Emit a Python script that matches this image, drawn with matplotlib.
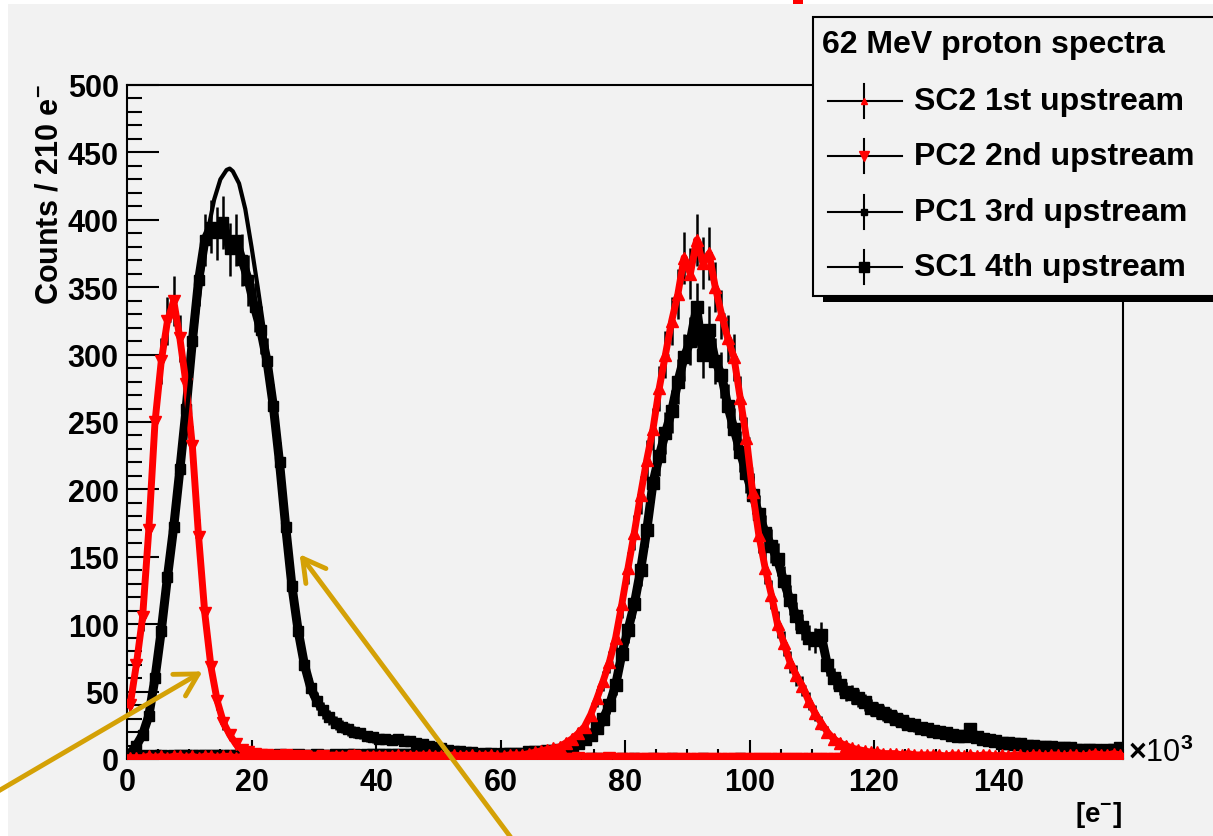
import numpy as np
import matplotlib
matplotlib.use("Agg")
import matplotlib.pyplot as plt
from matplotlib.lines import Line2D
from matplotlib.patches import Rectangle, FancyArrowPatch
from matplotlib.ticker import MultipleLocator

plt.rcParams['font.family'] = ['Liberation Sans', 'DejaVu Sans']
plt.rcParams['font.weight'] = 'bold'
plt.rcParams['mathtext.fontset'] = 'custom'
plt.rcParams['mathtext.rm'] = 'Liberation Sans'
plt.rcParams['mathtext.bf'] = 'Liberation Sans:bold'

# bins of 1k electrons (counts / 210 e-)
bin_centres = np.arange(160) + 0.5

pc2_counts = [
    40, 70, 105, 170, 250, 295, 325, 340, 312, 278,
    232, 165, 108, 68, 43, 27, 18, 11, 7, 5,
    4, 3, 3, 2, 2, 3, 2, 1, 2, 1,
    1, 2, 1, 1, 1, 1, 2, 1, 1, 1,
    1, 1, 0, 1, 1, 0, 1, 1, 0, 1,
    0, 1, 0, 0, 1, 0, 0, 1, 0, 0,
    0, 1, 0, 0, 0, 1, 0, 0, 0, 0,
    0, 0, 1, 0, 0, 0, 0, 1, 0, 0,
    0, 0, 0, 0, 0, 0, 0, 0, 0, 0,
    0, 0, 0, 0, 0, 0, 0, 0, 0, 0,
    0, 0, 0, 0, 0, 0, 0, 0, 0, 0,
    0, 0, 0, 0, 0, 0, 0, 0, 0, 0,
    0, 0, 0, 0, 0, 0, 0, 0, 0, 0,
    0, 0, 0, 0, 0, 0, 0, 0, 0, 0,
    0, 0, 0, 0, 0, 0, 0, 0, 0, 0,
    0, 0, 0, 0, 0, 0, 0, 0, 0, 0,
]

sc2_counts = [
    1, 1, 1, 2, 1, 2, 1, 2, 2, 1,
    2, 1, 2, 2, 1, 2, 2, 1, 2, 2,
    2, 1, 2, 2, 2, 1, 2, 2, 1, 2,
    2, 2, 1, 2, 2, 2, 3, 2, 2, 2,
    2, 2, 2, 3, 2, 2, 2, 2, 3, 2,
    2, 2, 3, 2, 2, 3, 2, 2, 3, 2,
    2, 3, 3, 3, 4, 5, 6, 7, 8, 9,
    12, 15, 19, 24, 33, 45, 58, 72, 90, 115,
    142, 168, 196, 222, 245, 275, 300, 325, 345, 372,
    360, 385, 368, 375, 350, 330, 312, 298, 268, 238,
    198, 166, 142, 122, 100, 86, 72, 62, 54, 43,
    34, 27, 20, 15, 12, 10, 8, 7, 6, 5,
    5, 4, 4, 4, 3, 4, 3, 3, 3, 3,
    3, 2, 3, 3, 2, 3, 2, 3, 3, 2,
    3, 2, 3, 3, 2, 3, 3, 2, 3, 3,
    2, 3, 3, 2, 3, 4, 3, 3, 4, 3,
]

pc1_counts = [
    4, 10, 18, 32, 60, 95, 135, 172, 215, 260,
    310, 355, 385, 395, 390, 398, 378, 385, 370, 355,
    335, 318, 295, 262, 220, 172, 128, 95, 70, 53,
    43, 36, 31, 27, 24, 22, 20, 19, 17, 16,
    15, 15, 14, 15, 13, 13, 12, 11, 10, 9,
    8, 7, 6, 6, 5, 5, 4, 4, 3, 3,
    3, 3, 2, 2, 2, 2, 2, 1, 1, 2,
    1, 1, 1, 0, 1, 1, 0, 1, 0, 1,
    0, 1, 0, 0, 1, 0, 0, 1, 0, 0,
    0, 0, 1, 0, 0, 0, 0, 0, 1, 0,
    0, 0, 0, 0, 0, 0, 0, 0, 0, 0,
    0, 0, 0, 0, 0, 0, 0, 0, 0, 0,
    0, 0, 0, 0, 0, 0, 0, 0, 0, 0,
    0, 0, 0, 0, 0, 0, 0, 0, 0, 0,
    0, 0, 0, 0, 0, 0, 0, 0, 0, 0,
    0, 0, 0, 0, 0, 0, 0, 0, 0, 0,
]

sc1_counts = [
    1, 1, 2, 1, 2, 2, 1, 2, 2, 2,
    2, 2, 2, 2, 2, 2, 2, 2, 2, 2,
    2, 2, 2, 2, 3, 2, 2, 3, 2, 2,
    3, 2, 2, 3, 2, 3, 3, 2, 3, 3,
    3, 3, 3, 3, 3, 3, 3, 3, 3, 3,
    3, 3, 4, 3, 3, 4, 3, 4, 4, 3,
    4, 4, 4, 4, 5, 5, 5, 6, 6, 7,
    8, 10, 12, 15, 18, 23, 30, 40, 55, 78,
    96, 115, 140, 170, 205, 225, 242, 258, 280, 298,
    310, 335, 300, 318, 295, 285, 262, 245, 228, 212,
    196, 182, 168, 158, 148, 132, 118, 106, 98, 90,
    88, 92, 70, 60, 55, 50, 48, 45, 42, 38,
    36, 34, 32, 30, 28, 26, 25, 23, 22, 21,
    20, 19, 18, 17, 17, 22, 16, 15, 14, 13,
    12, 12, 11, 11, 10, 10, 9, 9, 9, 8,
    8, 8, 7, 7, 7, 7, 6, 7, 7, 8,
]

# smooth fit drawn over the PC1 peak
pc1_fit_x = [9, 10, 11, 12, 13, 14, 15, 16, 16.5, 17, 18, 19, 20, 21, 22, 23, 24, 25]
pc1_fit_y = [230, 275, 320, 360, 392, 415, 430, 437, 438, 436, 427, 408, 380, 350, 318, 285, 248, 210]

legend_title = '62 MeV proton spectra'
legend_labels = ['SC2 1st upstream', 'PC2 2nd upstream', 'PC1 3rd upstream', 'SC1 4th upstream']
legend_markers = ['^', 'v', 's', 's']
legend_colors = ['red', 'red', 'black', 'black']
legend_sizes = [5, 6.5, 4.5, 7]

W, H = 1213, 837
BG = '#f2f2f2'
GOLD = '#d4a106'

fig = plt.figure(figsize=(W / 100, H / 100), dpi=100, facecolor=BG)
ax = fig.add_axes([127 / W, 1 - 760 / H, (1123 - 127) / W, (760 - 86) / H])
ax.set_facecolor(BG)


def fx(px):
    return px / W


def fy(py):
    return 1 - py / H


def draw_series(counts, marker, color, ms, lw):
    counts = np.array(counts, dtype=float)
    ax.errorbar(bin_centres, counts, yerr=np.sqrt(counts), xerr=0.5, fmt='none',
                ecolor='black', elinewidth=1.8, capsize=0, zorder=2)
    ax.plot(bin_centres, counts, '-', color=color, lw=lw, zorder=3)
    ax.plot(bin_centres, counts, linestyle='none', marker=marker, color=color,
            ms=ms, mec=color, zorder=3)


draw_series(sc1_counts, 's', 'black', 9, 6.5)
draw_series(pc1_counts, 's', 'black', 6.5, 6.5)
ax.plot(pc1_fit_x, pc1_fit_y, color='black', lw=3, zorder=4)
draw_series(pc2_counts, 'v', 'red', 8, 5)
draw_series(sc2_counts, '^', 'red', 8, 5)

ax.set_xlim(0, 160)
ax.set_ylim(0, 500)
ax.set_xticks(range(0, 141, 20))
ax.set_xticklabels([str(v) for v in range(0, 141, 20)])
ax.xaxis.set_minor_locator(MultipleLocator(5))
ax.set_yticks(range(0, 501, 50))
ax.yaxis.set_minor_locator(MultipleLocator(10))
ax.tick_params(axis='y', which='major', direction='in', length=23, width=1.5, labelsize=22, pad=6)
ax.tick_params(axis='y', which='minor', direction='in', length=11, width=1.5)
ax.tick_params(axis='x', which='major', direction='in', length=14, width=1.5, labelsize=22, pad=6)
ax.tick_params(axis='x', which='minor', direction='in', length=7, width=1.5)
for side in ['left', 'bottom', 'top', 'right']:
    ax.spines[side].set_linewidth(1.5)

# axis titles
fig.text(fx(50), fy(84), r'Counts / 210 e$^{-}$', rotation=90, ha='center', va='top',
         fontsize=22, fontweight='bold')
fig.text(fx(1122), fy(815), r'[e$^{-}$]', ha='right', va='center', fontsize=20, fontweight='bold')
fig.text(fx(1128), fy(762), r'$\times$10$^{3}$', ha='left', va='baseline', fontsize=22,
         fontweight='normal')

# legend box with shadow
fig.add_artist(Rectangle((fx(823), fy(303)), 0.5, 6 / H, transform=fig.transFigure,
                         facecolor='black', edgecolor='none', zorder=5))
fig.add_artist(Rectangle((fx(813), fy(297)), 0.5, (297 - 18) / H, transform=fig.transFigure,
                         facecolor=BG, edgecolor='black', lw=1.5, zorder=6))
fig.text(fx(822), fy(45), legend_title, ha='left', va='center', fontsize=23,
         fontweight='bold', zorder=7)
for i, label in enumerate(legend_labels):
    py = 102 + i * 55.3
    fig.add_artist(Line2D([fx(828), fx(902)], [fy(py), fy(py)], color='black', lw=1.5,
                          transform=fig.transFigure, zorder=7))
    fig.add_artist(Line2D([fx(864), fx(864)], [fy(py - 17), fy(py + 17)], color='black', lw=1.5,
                          transform=fig.transFigure, zorder=7))
    fig.add_artist(Line2D([fx(864)], [fy(py)], marker=legend_markers[i], color=legend_colors[i],
                          ms=legend_sizes[i], linestyle='none', transform=fig.transFigure, zorder=8))
    fig.text(fx(914), fy(py), label, ha='left', va='center', fontsize=23, fontweight='bold', zorder=8)

# white margins and leftover bit of red at the top
fig.add_artist(Rectangle((0, fy(5)), 1, 5 / H, transform=fig.transFigure,
                         facecolor='white', edgecolor='none', zorder=9))
fig.add_artist(Rectangle((0, 0), fx(8), 1, transform=fig.transFigure,
                         facecolor='white', edgecolor='none', zorder=9))
fig.add_artist(Rectangle((fx(793), fy(5)), fx(10), 5 / H, transform=fig.transFigure,
                         facecolor='red', edgecolor='none', zorder=10))

# gold arrows
for tail, tip in [((-5, 794), (205, 671)), ((512, 840), (298, 553))]:
    fig.add_artist(FancyArrowPatch((fx(tail[0]), fy(tail[1])), (fx(tip[0]), fy(tip[1])),
                                   transform=fig.transFigure, arrowstyle='->,head_length=0.8,head_width=0.45',
                                   mutation_scale=20, color=GOLD, lw=3.5, zorder=11))

fig.savefig('out.png', dpi=100, facecolor=BG)
